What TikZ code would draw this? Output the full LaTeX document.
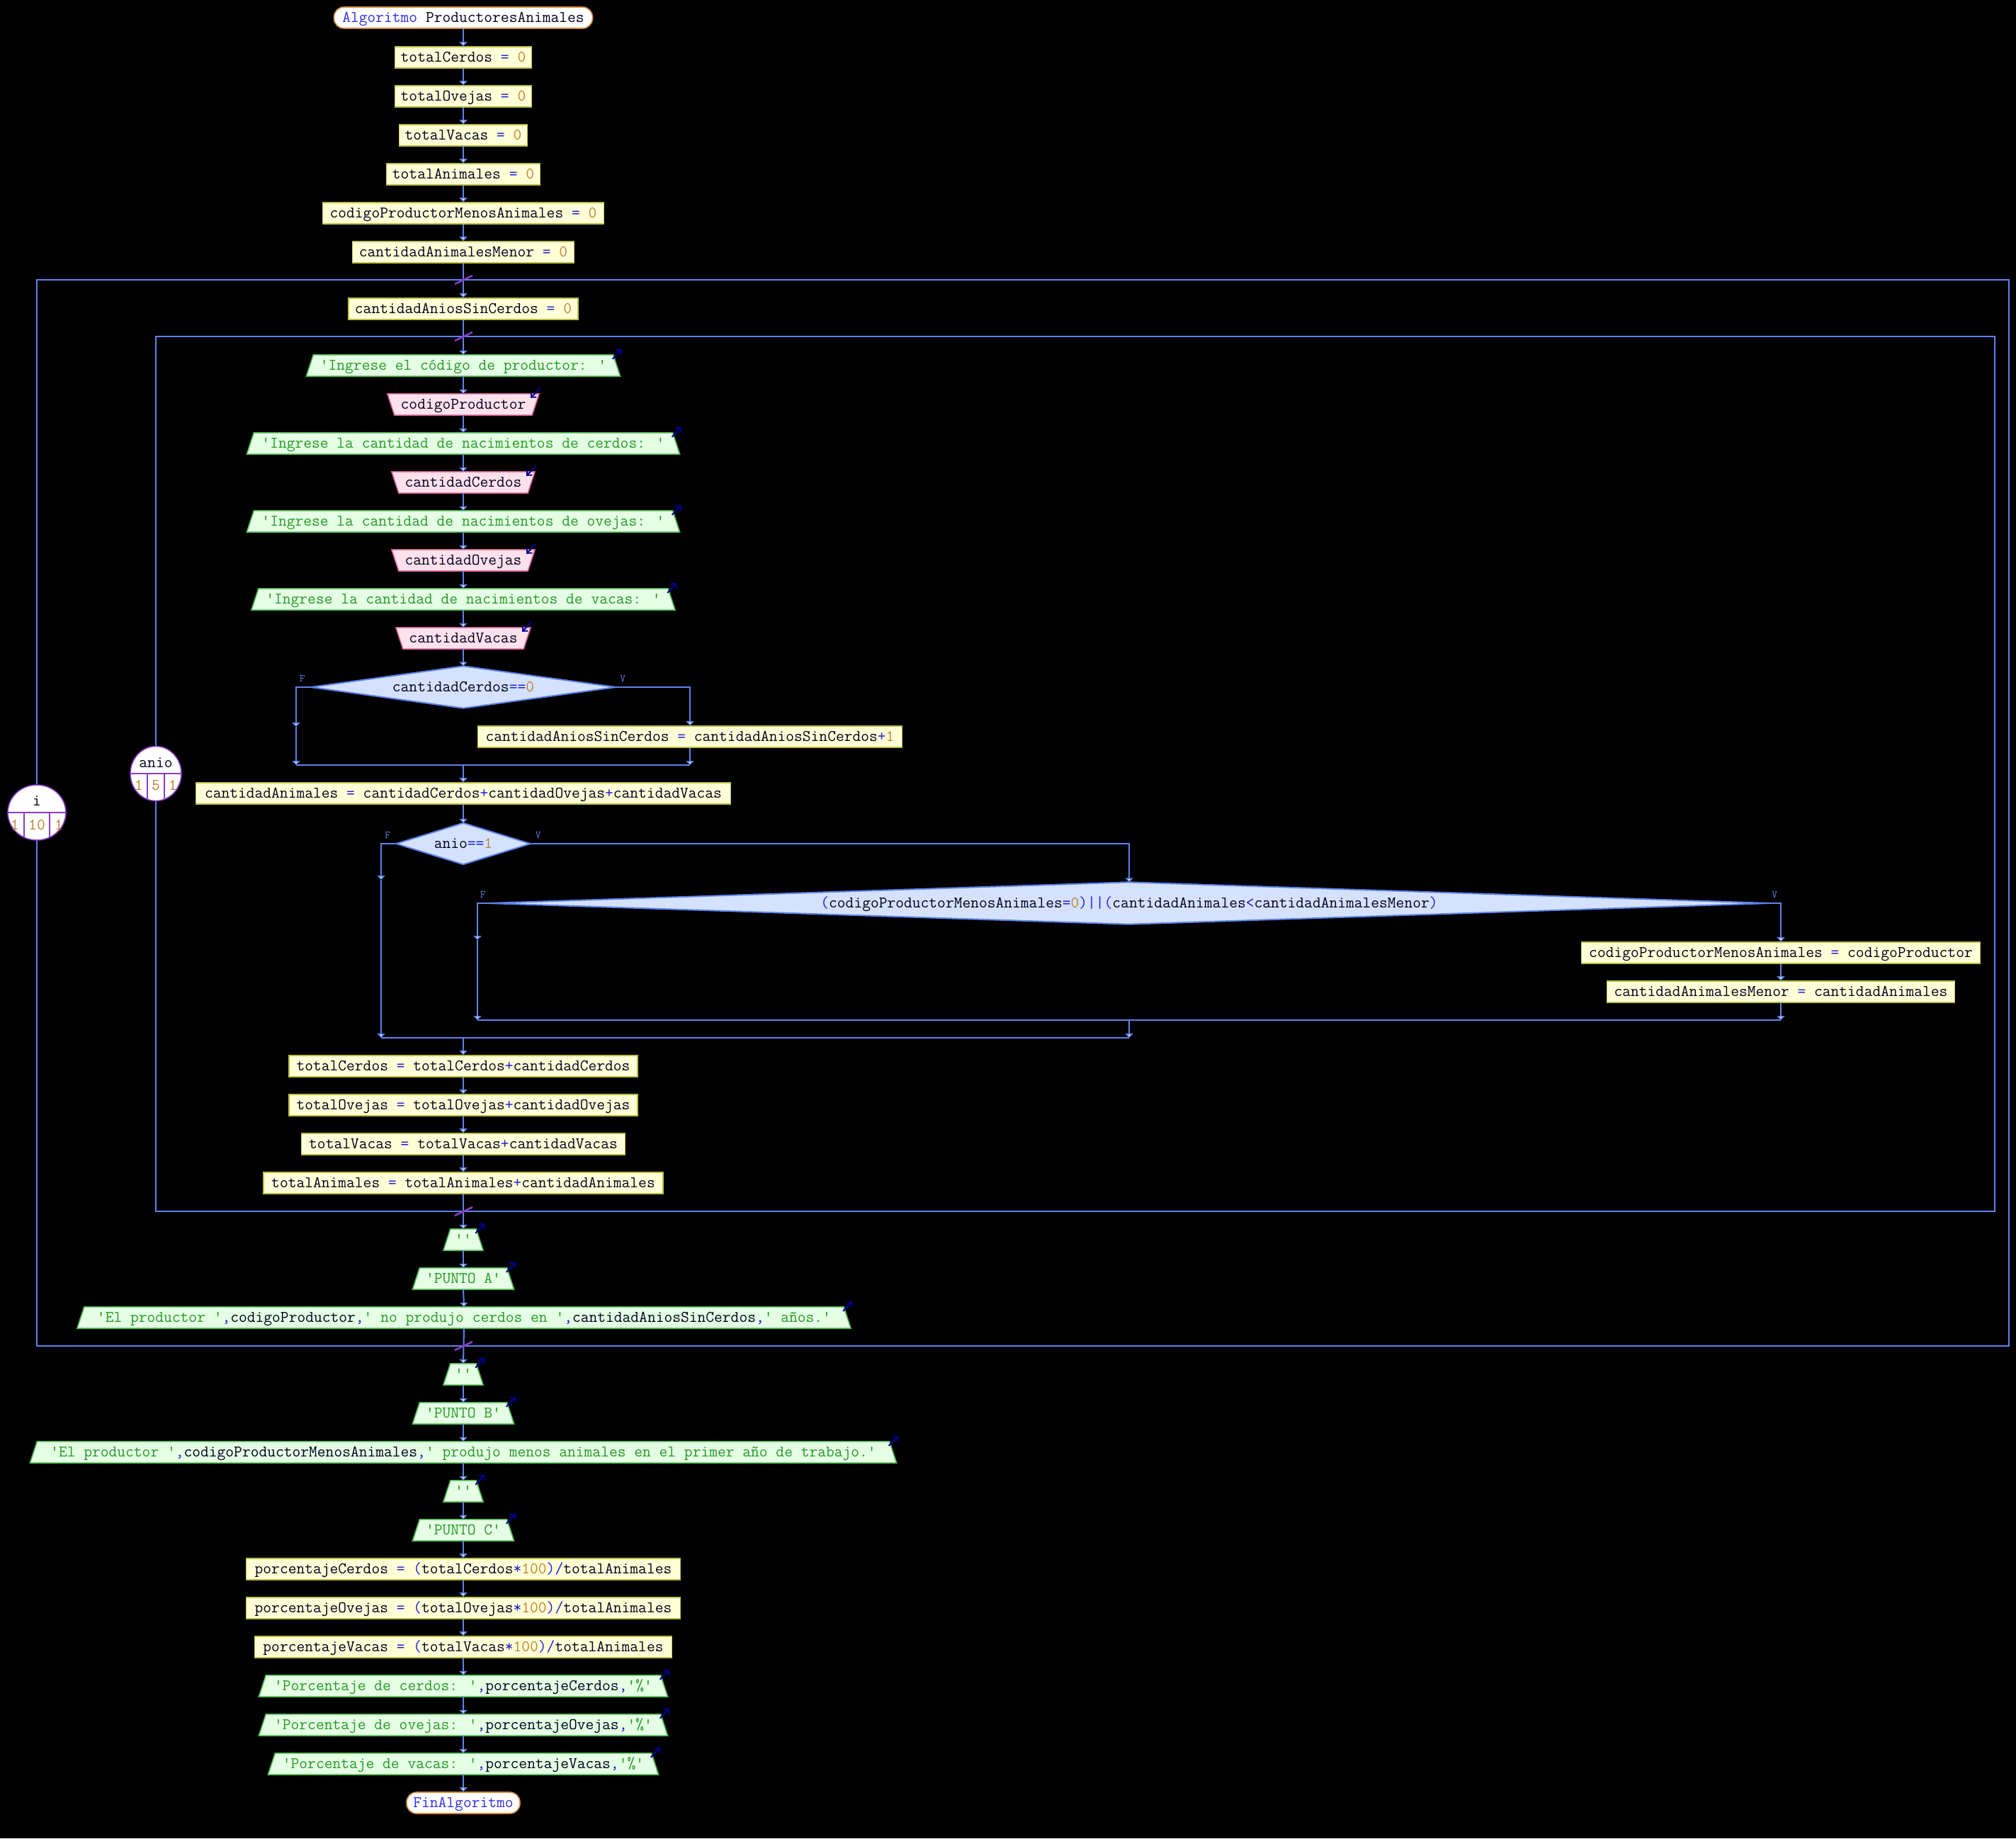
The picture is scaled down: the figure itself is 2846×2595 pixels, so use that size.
\documentclass[tikz,border=0pt]{standalone}
\usepackage{fontspec}
\usetikzlibrary{arrows.meta,shapes.geometric,calc}
\pgfdeclarelayer{back}
\pgfdeclarelayer{bg}
\pgfsetlayers{back,bg,main}
\definecolor{lnc}{RGB}{95,130,235}
\definecolor{procf}{RGB}{255,255,215}
\definecolor{procd}{RGB}{190,190,70}
\definecolor{outf}{RGB}{228,255,228}
\definecolor{outd}{RGB}{80,180,80}
\definecolor{inf}{RGB}{255,225,235}
\definecolor{ind}{RGB}{205,95,145}
\definecolor{decf}{RGB}{212,226,255}
\definecolor{startd}{RGB}{210,140,60}
\definecolor{slc}{RGB}{140,60,200}
\definecolor{txstr}{RGB}{40,150,40}
\definecolor{txnum}{RGB}{190,130,50}
\definecolor{txop}{RGB}{30,30,210}
\definecolor{txkw}{RGB}{45,45,225}
\definecolor{txid}{RGB}{0,0,30}
\definecolor{mkc}{RGB}{0,0,150}
\newcommand\pf{\ttfamily\fontsize{22.86}{26}\selectfont}
\newcommand\Cs[1]{\textcolor{txstr}{#1}}
\newcommand\Cn[1]{\textcolor{txnum}{#1}}
\newcommand\Co[1]{\textcolor{txop}{#1}}
\newcommand\Ck[1]{\textcolor{txkw}{#1}}
\tikzset{
 txt/.style={rectangle, inner sep=0pt, minimum height=30pt, font=\pf, text=txid, text height=16pt, text depth=4pt},
 proc/.style={txt, draw=procd, fill=procf, line width=1.6pt},
 startend/.style={txt, draw=startd, fill=white, line width=1.6pt, rounded corners=14pt},
 conn/.style={draw=lnc, line width=2pt, -{Triangle[width=11pt,length=6pt,fill=white]}},
 thinconn/.style={conn, line width=1.5pt},
 plain/.style={draw=lnc, line width=2pt},
 outsh/.style={draw=outd, fill=outf, line width=1.6pt},
 insh/.style={draw=ind, fill=inf, line width=1.6pt},
 decsh/.style={draw=lnc, fill=decf, line width=2pt},
 mk/.style={draw=mkc, line width=2pt, -{Straight Barb[length=5pt,width=10pt]}},
 slash/.style={draw=slc, line width=2.5pt},
 loopln/.style={draw=lnc, line width=2pt},
 loopc/.style={ellipse, draw=slc, fill=white, line width=1.6pt, inner sep=0pt},
 divl/.style={draw=slc, line width=1.6pt},
 lbl/.style={font=\pf, inner sep=0pt, text=txid, text height=16pt, text depth=4pt},
 fv/.style={font=\ttfamily\fontsize{15}{15}\selectfont, text=lnc, inner sep=0pt},
}
% name, x, y, top width, text
\newcommand\OutBox[5]{%
 \node[txt, minimum width=#4] (#1) at (#2,#3) {#5};
 \begin{pgfonlayer}{bg}
 \filldraw[outsh] ([xshift=-10pt]#1.south west) -- (#1.north west) -- (#1.north east) -- ([xshift=10pt]#1.south east) -- cycle;
 \end{pgfonlayer}
 \draw[mk] ($(#1.north east)+(-1,6)$) -- ($(#1.north east)+(12,-8)$);
}
\newcommand\InBox[5]{%
 \node[txt, minimum width=#4] (#1) at (#2,#3) {#5};
 \begin{pgfonlayer}{bg}
 \filldraw[insh] ([xshift=10pt]#1.south west) -- (#1.north west) -- (#1.north east) -- ([xshift=-10pt]#1.south east) -- cycle;
 \end{pgfonlayer}
 \draw[mk] ($(#1.north east)+(1,-8)$) -- ($(#1.north east)+(-12,6)$);
}
% name, x, y, w, h, text
\newcommand\DecBox[6]{%
 \node[txt, minimum width=#4, minimum height=#5] (#1) at (#2,#3) {#6};
 \begin{pgfonlayer}{bg}
 \filldraw[decsh] (#1.west) -- (#1.north) -- (#1.east) -- (#1.south) -- cycle;
 \end{pgfonlayer}
}
\begin{document}
\begin{tikzpicture}[x=1pt,y=-1pt]
\useasboundingbox (0,0) rectangle (2846,2595);
\begin{pgfonlayer}{back}
\fill[black] (0,0) rectangle (2846,2595);
\end{pgfonlayer}

% loop frames
\draw[loopln] (52,395) rectangle (2836,1900);
\draw[loopln] (220,475) rectangle (2816,1710);

% nodes
\node[startend, minimum width=365] (st) at (654,25) {\Ck{Algoritmo} ProductoresAnimales};
\node[proc, minimum width=193] (p1) at (654,81) {totalCerdos \Co{=} \Cn{0}};
\node[proc, minimum width=193] (p2) at (654,136) {totalOvejas \Co{=} \Cn{0}};
\node[proc, minimum width=181] (p3) at (654,191) {totalVacas \Co{=} \Cn{0}};
\node[proc, minimum width=217] (p4) at (654,246) {totalAnimales \Co{=} \Cn{0}};
\node[proc, minimum width=397] (p5) at (654,301) {codigoProductorMenosAnimales \Co{=} \Cn{0}};
\node[proc, minimum width=313] (p6) at (654,356) {cantidadAnimalesMenor \Co{=} \Cn{0}};
\node[proc, minimum width=324] (p7) at (654,436) {cantidadAniosSinCerdos \Co{=} \Cn{0}};

\OutBox{o1}{654}{516}{423}{\Cs{'Ingrese el código de productor: '}}
\InBox{i1}{654}{571}{214}{codigoProductor}
\OutBox{o2}{654}{626}{591}{\Cs{'Ingrese la cantidad de nacimientos de cerdos: '}}
\InBox{i2}{654}{681}{202}{cantidadCerdos}
\OutBox{o3}{654}{736}{591}{\Cs{'Ingrese la cantidad de nacimientos de ovejas: '}}
\InBox{i3}{654}{791}{202}{cantidadOvejas}
\OutBox{o4}{654}{846}{578}{\Cs{'Ingrese la cantidad de nacimientos de vacas: '}}
\InBox{i4}{654}{901}{190}{cantidadVacas}

\DecBox{d1}{654}{970}{430}{59}{cantidadCerdos\Co{==}\Cn{0}}
\node[proc, minimum width=599] (p8) at (974,1040) {cantidadAniosSinCerdos \Co{=} cantidadAniosSinCerdos\Co{+}\Cn{1}};
\node[proc, minimum width=755] (p9) at (654,1120) {cantidadAnimales \Co{=} cantidadCerdos\Co{+}cantidadOvejas\Co{+}cantidadVacas};
\DecBox{d2}{654}{1191}{189}{58}{anio\Co{==}\Cn{1}}
\DecBox{d3}{1594}{1275}{1808}{59}{\Co{(}codigoProductorMenosAnimales\Co{=}\Cn{0}\Co{)||(}cantidadAnimales\Co{<}cantidadAnimalesMenor\Co{)}}
\node[proc, minimum width=563] (p10) at (2514,1345) {codigoProductorMenosAnimales \Co{=} codigoProductor};
\node[proc, minimum width=491] (p11) at (2514,1400) {cantidadAnimalesMenor \Co{=} cantidadAnimales};

\node[proc, minimum width=492] (p12) at (654,1505) {totalCerdos \Co{=} totalCerdos\Co{+}cantidadCerdos};
\node[proc, minimum width=492] (p13) at (654,1560) {totalOvejas \Co{=} totalOvejas\Co{+}cantidadOvejas};
\node[proc, minimum width=457] (p14) at (654,1615) {totalVacas \Co{=} totalVacas\Co{+}cantidadVacas};
\node[proc, minimum width=564] (p15) at (654,1670) {totalAnimales \Co{=} totalAnimales\Co{+}cantidadAnimales};

\OutBox{o5}{654}{1750}{36}{\Cs{''}}
\OutBox{o6}{654}{1805}{123}{\Cs{'PUNTO A'}}
\OutBox{o7}{655}{1860}{1072}{\Cs{'El productor '}\Co{,}codigoProductor\Co{,}\Cs{' no produjo cerdos en '}\Co{,}cantidadAniosSinCerdos\Co{,}\Cs{' años.'}}
\OutBox{o8}{654}{1940}{36}{\Cs{''}}
\OutBox{o9}{654}{1995}{123}{\Cs{'PUNTO B'}}
\OutBox{o10}{654}{2050}{1203}{\Cs{'El productor '}\Co{,}codigoProductorMenosAnimales\Co{,}\Cs{' produjo menos animales en el primer año de trabajo.'}}
\OutBox{o11}{654}{2105}{36}{\Cs{''}}
\OutBox{o12}{654}{2160}{123}{\Cs{'PUNTO C'}}
\node[proc, minimum width=613] (p16) at (654,2215) {porcentajeCerdos \Co{=} \Co{(}totalCerdos\Co{*}\Cn{100}\Co{)/}totalAnimales};
\node[proc, minimum width=613] (p17) at (654,2270) {porcentajeOvejas \Co{=} \Co{(}totalOvejas\Co{*}\Cn{100}\Co{)/}totalAnimales};
\node[proc, minimum width=589] (p18) at (654,2325) {porcentajeVacas \Co{=} \Co{(}totalVacas\Co{*}\Cn{100}\Co{)/}totalAnimales};
\OutBox{o13}{654}{2380}{557}{\Cs{'Porcentaje de cerdos: '}\Co{,}porcentajeCerdos\Co{,}\Cs{'\%'}}
\OutBox{o14}{654}{2435}{557}{\Cs{'Porcentaje de ovejas: '}\Co{,}porcentajeOvejas\Co{,}\Cs{'\%'}}
\OutBox{o15}{654}{2490}{531}{\Cs{'Porcentaje de vacas: '}\Co{,}porcentajeVacas\Co{,}\Cs{'\%'}}
\node[startend, minimum width=160] (en) at (654,2545) {\Ck{FinAlgoritmo}};

% main chain
\foreach \a/\b in {st/p1,p1/p2,p2/p3,p3/p4,p4/p5,p5/p6,p6/p7,p7/o1,o1/i1,i1/o2,o2/i2,i2/o3,o3/i3,i3/o4,o4/i4,i4/d1,p9/d2,p12/p13,p13/p14,p14/p15,p15/o5,o5/o6,o6/o7,o7/o8,o8/o9,o9/o10,o10/o11,o11/o12,o12/p16,p16/p17,p17/p18,p18/o13,o13/o14,o14/o15,o15/en}
  \draw[conn] (\a.south) -- (\b.north);

% first decision
\coordinate (a1) at (418,1026);
\coordinate (a2) at (418,1080);
\coordinate (a3) at (974,1080);
\coordinate (a4) at (654,1080);
\draw[conn] (d1.west) -| (a1);
\draw[thinconn] (a1) -- (a2);
\draw[conn] (d1.east) -| (p8.north);
\draw[thinconn] (p8.south) -- (a3);
\draw[plain] (a2) -- (a3);
\draw[conn] (a4) -- (p9.north);
\node[fv] (f1) at ($(d1.west)+(-12,-12)$) {F};
\node[fv] (v1) at ($(d1.east)+(10,-12)$) {V};

% second and third decisions
\coordinate (b1) at (538,1242);
\coordinate (b2) at (538,1465);
\coordinate (b3) at (1594,1465);
\coordinate (b4) at (654,1465);
\coordinate (b5) at (674,1327);
\coordinate (b6) at (674,1440);
\coordinate (b7) at (2514,1440);
\coordinate (b8) at (1594,1440);
\draw[conn] (d2.west) -| (b1);
\draw[thinconn] (b1) -- (b2);
\draw[conn] (d2.east) -| (d3.north);
\draw[conn] (d3.west) -| (b5);
\draw[thinconn] (b5) -- (b6);
\draw[conn] (d3.east) -| (p10.north);
\draw[conn] (p10.south) -- (p11.north);
\draw[thinconn] (p11.south) -- (b7);
\draw[plain] (b6) -- (b7);
\draw[thinconn] (b8) -- (b3);
\draw[plain] (b2) -- (b3);
\draw[conn] (b4) -- (p12.north);
\node[fv] (f2) at ($(d2.west)+(-12,-12)$) {F};
\node[fv] (v2) at ($(d2.east)+(11,-12)$) {V};
\node[fv] (f3) at ($(d3.west)+(-8,-12)$) {F};
\node[fv] (v3) at ($(d3.east)+(7,-12)$) {V};

% loop circles
\node[loopc, minimum width=82, minimum height=78] (ci) at (52,1147) {};
\draw[divl] (ci.west) -- (ci.east);
\draw[divl] (34,1147) -- (34,1182);
\draw[divl] (70,1147) -- (70,1182);
\node[lbl] (cin) at (52,1131) {i};
\node[lbl, text=txnum] (ci1) at (21,1165) {1};
\node[lbl, text=txnum] (ci2) at (52,1165) {10};
\node[lbl, text=txnum] (ci3) at (83,1165) {1};

\node[loopc, minimum width=72, minimum height=77] (ca) at (220,1092) {};
\draw[divl] (ca.west) -- (ca.east);
\draw[divl] (208,1092) -- (208,1128);
\draw[divl] (232,1092) -- (232,1128);
\node[lbl] (can) at (220,1077) {anio};
\node[lbl, text=txnum] (ca1) at (196,1109) {1};
\node[lbl, text=txnum] (ca2) at (220,1109) {5};
\node[lbl, text=txnum] (ca3) at (244,1109) {1};

% loop entry/exit marks
\foreach \yy in {395,475,1710,1900}
  \draw[slash] (642,\yy+6) -- (667,\yy-6);
\end{tikzpicture}
\end{document}
